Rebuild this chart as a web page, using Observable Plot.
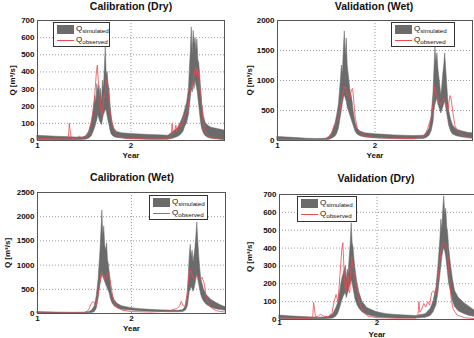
<!DOCTYPE html>
<html><head><meta charset="utf-8">
<script src="https://cdn.jsdelivr.net/npm/d3@7"></script>
<script src="https://cdn.jsdelivr.net/npm/@observablehq/plot@0.6"></script>
<style>
body{margin:0;background:#fff;font-family:"Liberation Sans",Arial,sans-serif;}
#root{position:relative;width:474px;height:338px;overflow:hidden;background:#fff;}
.panel{position:absolute;}
.title{position:absolute;font-weight:bold;font-size:10.5px;white-space:nowrap;transform:translateX(-50%);color:#111;}
.legend{position:absolute;background:#fff;border:1px solid #333;box-sizing:border-box;}
.row{position:absolute;left:3px;height:10px;display:flex;align-items:center;}
.sw{width:17px;height:9px;background:#6b6b6b;}
.ln{width:17px;height:1px;background:#ee4a50;}
.q{font-size:8px;margin-left:2px;color:#111;white-space:nowrap;}
.q sub{font-size:6.2px;vertical-align:-2px;}
</style></head>
<body><div id="root"></div>
<script>
// ---------- Calibration (Dry) ----------
const calDryT  = [1.00,1.10,1.20,1.30,1.40,1.48,1.52,1.55,1.58,1.60,1.62,1.63,1.64,1.65,1.66,1.67,1.68,1.69,1.70,1.71,1.72,1.73,1.74,1.75,1.76,1.77,1.78,1.79,1.80,1.82,1.85,1.90,2.00,2.10,2.20,2.30,2.40,2.45,2.50,2.53,2.56,2.58,2.60,2.62,2.63,2.64,2.65,2.66,2.67,2.68,2.69,2.70,2.71,2.72,2.73,2.74,2.75,2.76,2.78,2.80,2.83,2.86,2.90,2.95,3.00];
const calDryLo = [2,2,2,2,2,3,5,10,25,50,80,100,120,150,130,110,100,90,120,150,160,180,170,140,110,90,60,40,30,20,15,12,8,6,5,5,5,10,20,30,50,80,100,150,200,250,300,280,330,300,350,320,300,250,200,150,100,70,40,25,15,10,8,6,5];
const calDryHi = [28,25,22,20,18,17,25,50,100,180,260,220,330,280,320,250,300,220,350,300,420,545,380,400,330,300,220,160,110,70,50,42,38,35,32,30,28,50,70,100,140,180,220,300,420,520,660,500,640,560,600,520,590,470,450,380,300,220,140,100,85,75,70,64,58];
const calDryObsT = [1.00,1.10,1.20,1.30,1.33,1.34,1.355,1.37,1.42,1.45,1.48,1.52,1.55,1.57,1.59,1.61,1.63,1.64,1.65,1.66,1.67,1.68,1.69,1.70,1.71,1.72,1.73,1.74,1.75,1.76,1.77,1.78,1.80,1.82,1.84,1.88,1.95,2.10,2.20,2.30,2.40,2.43,2.44,2.45,2.47,2.48,2.49,2.51,2.52,2.54,2.56,2.58,2.60,2.62,2.64,2.66,2.68,2.69,2.70,2.71,2.72,2.73,2.75,2.77,2.79,2.82,2.88,2.95,3.00];
const calDryObs  = [12,10,9,8,10,100,30,10,15,25,12,20,50,100,150,250,400,440,350,300,250,170,150,200,260,250,320,350,300,270,200,150,100,60,40,20,12,10,9,8,10,30,100,40,60,90,50,80,100,80,120,150,170,240,300,330,400,430,380,420,400,330,250,120,60,30,15,8,5];

// ---------- Validation (Wet) ----------
const valWetT  = [1.00,1.10,1.20,1.30,1.40,1.50,1.53,1.56,1.59,1.61,1.63,1.64,1.65,1.66,1.67,1.68,1.69,1.70,1.71,1.72,1.73,1.74,1.75,1.76,1.77,1.78,1.79,1.80,1.82,1.85,1.90,2.00,2.10,2.20,2.30,2.40,2.50,2.53,2.56,2.58,2.60,2.61,2.62,2.63,2.64,2.65,2.66,2.67,2.68,2.69,2.70,2.71,2.72,2.73,2.74,2.75,2.76,2.78,2.80,2.84,2.90,2.95,3.00];
const valWetLo = [5,5,5,5,5,5,10,30,60,100,200,300,400,500,600,700,750,700,650,550,500,450,400,350,300,250,200,150,100,70,50,35,30,25,20,20,25,40,80,150,300,500,600,650,700,600,550,500,450,500,550,600,650,550,450,350,250,150,100,70,50,40,35];
const valWetHi = [60,50,40,30,25,30,60,120,250,400,600,800,1000,1250,1100,1500,1820,1400,1700,1250,1100,950,800,750,650,500,400,300,200,150,120,105,95,85,80,75,80,120,200,400,800,1200,1550,1300,1450,1200,1050,900,750,900,1100,1250,1450,1200,950,700,500,350,250,180,150,130,120];
const valWetObsT = [1.00,1.20,1.40,1.50,1.54,1.56,1.58,1.60,1.62,1.64,1.66,1.68,1.69,1.70,1.72,1.74,1.75,1.76,1.77,1.78,1.79,1.80,1.82,1.85,1.90,2.00,2.20,2.40,2.45,2.50,2.52,2.54,2.56,2.58,2.60,2.61,2.63,2.65,2.67,2.69,2.71,2.73,2.75,2.76,2.77,2.78,2.80,2.82,2.85,2.90,2.95,3.00];
const valWetObs  = [20,15,12,20,60,150,250,300,350,500,700,850,900,850,750,700,780,850,870,700,500,350,200,120,70,50,35,30,50,60,120,200,300,400,700,900,750,650,600,650,700,600,500,650,750,700,450,250,150,80,50,40];

// ---------- Calibration (Wet) ----------
const calWetT  = [1.00,1.10,1.20,1.30,1.40,1.50,1.55,1.58,1.61,1.63,1.65,1.66,1.67,1.68,1.69,1.70,1.71,1.72,1.73,1.74,1.75,1.76,1.77,1.78,1.79,1.80,1.82,1.85,1.90,2.00,2.10,2.20,2.30,2.40,2.50,2.55,2.58,2.60,2.61,2.62,2.63,2.64,2.65,2.66,2.67,2.68,2.69,2.70,2.71,2.72,2.73,2.74,2.75,2.77,2.80,2.85,2.90,2.95,3.00];
const calWetLo = [2,2,2,2,2,3,5,10,30,100,300,450,600,700,800,750,700,650,600,550,500,450,400,300,250,200,150,110,80,60,45,35,30,25,25,30,60,150,300,450,500,550,500,450,500,600,700,800,700,600,500,400,330,250,180,120,90,70,55];
const calWetHi = [30,25,20,18,15,20,30,60,150,350,700,1000,1300,1700,2130,1600,1800,1400,1300,1450,1100,1000,800,600,450,380,280,200,150,110,90,75,65,60,55,70,150,400,800,1200,1420,1150,1300,1050,1200,1350,1600,1880,1500,1200,950,750,650,500,380,280,220,170,130];
const calWetObsT = [1.00,1.20,1.40,1.50,1.53,1.55,1.57,1.59,1.61,1.62,1.64,1.66,1.68,1.70,1.72,1.74,1.76,1.78,1.80,1.82,1.85,1.90,2.00,2.20,2.40,2.44,2.48,2.51,2.53,2.55,2.57,2.59,2.61,2.63,2.65,2.67,2.69,2.71,2.73,2.75,2.77,2.79,2.82,2.86,2.90,2.95,3.00];
const calWetObs  = [10,8,8,15,50,100,200,250,200,150,350,600,850,800,700,780,850,600,350,200,120,70,40,30,50,80,100,150,250,160,150,400,800,900,750,700,800,750,700,750,650,400,200,100,60,40,30];

// ---------- Validation (Dry) ----------
const valDryT  = [1.00,1.10,1.20,1.30,1.40,1.50,1.55,1.58,1.60,1.62,1.64,1.66,1.68,1.69,1.70,1.71,1.72,1.73,1.74,1.75,1.76,1.77,1.78,1.80,1.82,1.85,1.90,2.00,2.10,2.20,2.30,2.40,2.50,2.55,2.58,2.61,2.63,2.65,2.66,2.67,2.68,2.69,2.70,2.71,2.72,2.73,2.74,2.76,2.78,2.80,2.84,2.90,2.95,3.00];
const valDryLo = [2,2,2,2,2,3,5,15,30,60,100,130,150,120,140,160,180,200,220,200,170,140,110,80,60,40,25,12,8,5,5,5,10,20,40,80,150,250,300,350,380,400,380,350,300,250,200,150,100,70,45,30,20,15];
const valDryHi = [22,18,15,12,10,12,30,60,90,150,220,260,300,220,280,250,350,420,540,430,400,330,280,200,150,100,65,40,30,25,22,20,30,60,100,180,300,450,560,500,620,690,580,620,520,480,400,300,220,160,120,90,70,50];
const valDryObsT = [1.00,1.10,1.20,1.30,1.34,1.35,1.36,1.37,1.40,1.42,1.45,1.50,1.54,1.56,1.58,1.60,1.62,1.64,1.65,1.66,1.67,1.68,1.69,1.70,1.71,1.72,1.73,1.74,1.75,1.77,1.79,1.82,1.85,1.90,2.00,2.20,2.40,2.42,2.43,2.44,2.46,2.48,2.50,2.52,2.54,2.56,2.58,2.60,2.62,2.64,2.66,2.68,2.70,2.72,2.74,2.76,2.78,2.82,2.90,3.00];
const valDryObs  = [10,8,7,6,10,95,50,15,20,30,20,15,40,100,140,100,250,400,430,300,200,150,220,250,160,150,250,350,300,250,180,100,50,20,10,8,8,20,100,40,60,90,70,100,80,150,160,140,200,300,400,430,420,400,250,120,60,25,10,5];

const xTicks = [1, 2];
const ticks700 = [0,100,200,300,400,500,600,700];
const ticks2000 = [0,500,1000,1500,2000];
const ticks2500 = [0,500,1000,1500,2000,2500];

const panels = [
  {title:"Calibration (Dry)", t:calDryT, lo:calDryLo, hi:calDryHi, ot:calDryObsT, o:calDryObs, yt:ticks700,
   left:0, top:14, w:237, h:154, ml:37, mr:13, mt:6, mb:28, ylo:28, xlo:17, xtp:2, tx:131, ty:0, leg:{l:53,t:22,w:57,h:25}},
  {title:"Validation (Wet)", t:valWetT, lo:valWetLo, hi:valWetHi, ot:valWetObsT, o:valWetObs, yt:ticks2000,
   left:237, top:14, w:237, h:154, ml:40, mr:2, mt:6, mb:28, ylo:31, xlo:17, xtp:2, tx:374, ty:0, leg:{l:391,t:22,w:64,h:25}},
  {title:"Calibration (Wet)", t:calWetT, lo:calWetLo, hi:calWetHi, ot:calWetObsT, o:calWetObs, yt:ticks2500,
   left:0, top:184, w:237, h:154, ml:37, mr:12, mt:8, mb:25, ylo:33, xlo:17, xtp:2, tx:132, ty:171, leg:{l:149,t:195,w:59,h:25}},
  {title:"Validation (Dry)", t:valDryT, lo:valDryLo, hi:valDryHi, ot:valDryObsT, o:valDryObs, yt:ticks700,
   left:237, top:184, w:237, h:154, ml:42, mr:0, mt:10, mb:19, ylo:33, xlo:17, xtp:0, tx:376, ty:172, leg:{l:297,t:196,w:60,h:26}}
];

const root = document.getElementById("root");
for (const p of panels) {
  const sim = p.t.map((t, i) => ({t, lo: p.lo[i], hi: p.hi[i]}));
  const obs = p.ot.map((t, i) => ({t, q: p.o[i]}));
  const ymax = p.yt[p.yt.length - 1];
  const svg = Plot.plot({
    width: p.w, height: p.h,
    marginLeft: p.ml, marginRight: p.mr, marginTop: p.mt, marginBottom: p.mb,
    style: {fontFamily: "'Liberation Sans', Arial, sans-serif", fontSize: "8px", fontWeight: "bold", background: "transparent", color: "#111", overflow: "visible"},
    x: {domain: [1, 3]},
    y: {domain: [0, ymax]},
    marks: [
      Plot.gridY(p.yt, {stroke: "#999", strokeOpacity: 1, strokeDasharray: "1,2"}),
      Plot.gridX([2], {stroke: "#999", strokeOpacity: 1, strokeDasharray: "1,2"}),
      Plot.areaY(sim, {x: "t", y1: "lo", y2: "hi", fill: "#6b6b6b", stroke: "#666", strokeWidth: 0.5}),
      Plot.lineY(obs, {x: "t", y: "q", stroke: "#ee4a50", strokeWidth: 0.8}),
      Plot.frame({stroke: "#555"}),
      Plot.axisY(p.yt, {tickSize: 0, tickPadding: 3, tickFormat: d => String(d), label: "Q [m³/s]", labelAnchor: "center", labelArrow: "none", labelOffset: p.ylo}),
      Plot.axisX(xTicks, {tickSize: 0, tickPadding: p.xtp, tickFormat: d => String(d), label: "Year", labelAnchor: "center", labelArrow: "none", labelOffset: p.xlo})
    ]
  });
  svg.classList.add("panel");
  svg.style.left = p.left + "px";
  svg.style.top = p.top + "px";
  root.appendChild(svg);

  const ti = document.createElement("div");
  ti.className = "title";
  ti.textContent = p.title;
  ti.style.left = p.tx + "px";
  ti.style.top = p.ty + "px";
  root.appendChild(ti);

  const lg = document.createElement("div");
  lg.className = "legend";
  lg.style.left = p.leg.l + "px"; lg.style.top = p.leg.t + "px";
  lg.style.width = p.leg.w + "px"; lg.style.height = p.leg.h + "px";
  lg.innerHTML = '<div class="row" style="top:1px"><div class="sw"></div><span class="q">Q<sub>simulated</sub></span></div>' +
                 '<div class="row" style="top:12px"><div class="ln"></div><span class="q">Q<sub>observed</sub></span></div>';
  root.appendChild(lg);
}
</script></body></html>
